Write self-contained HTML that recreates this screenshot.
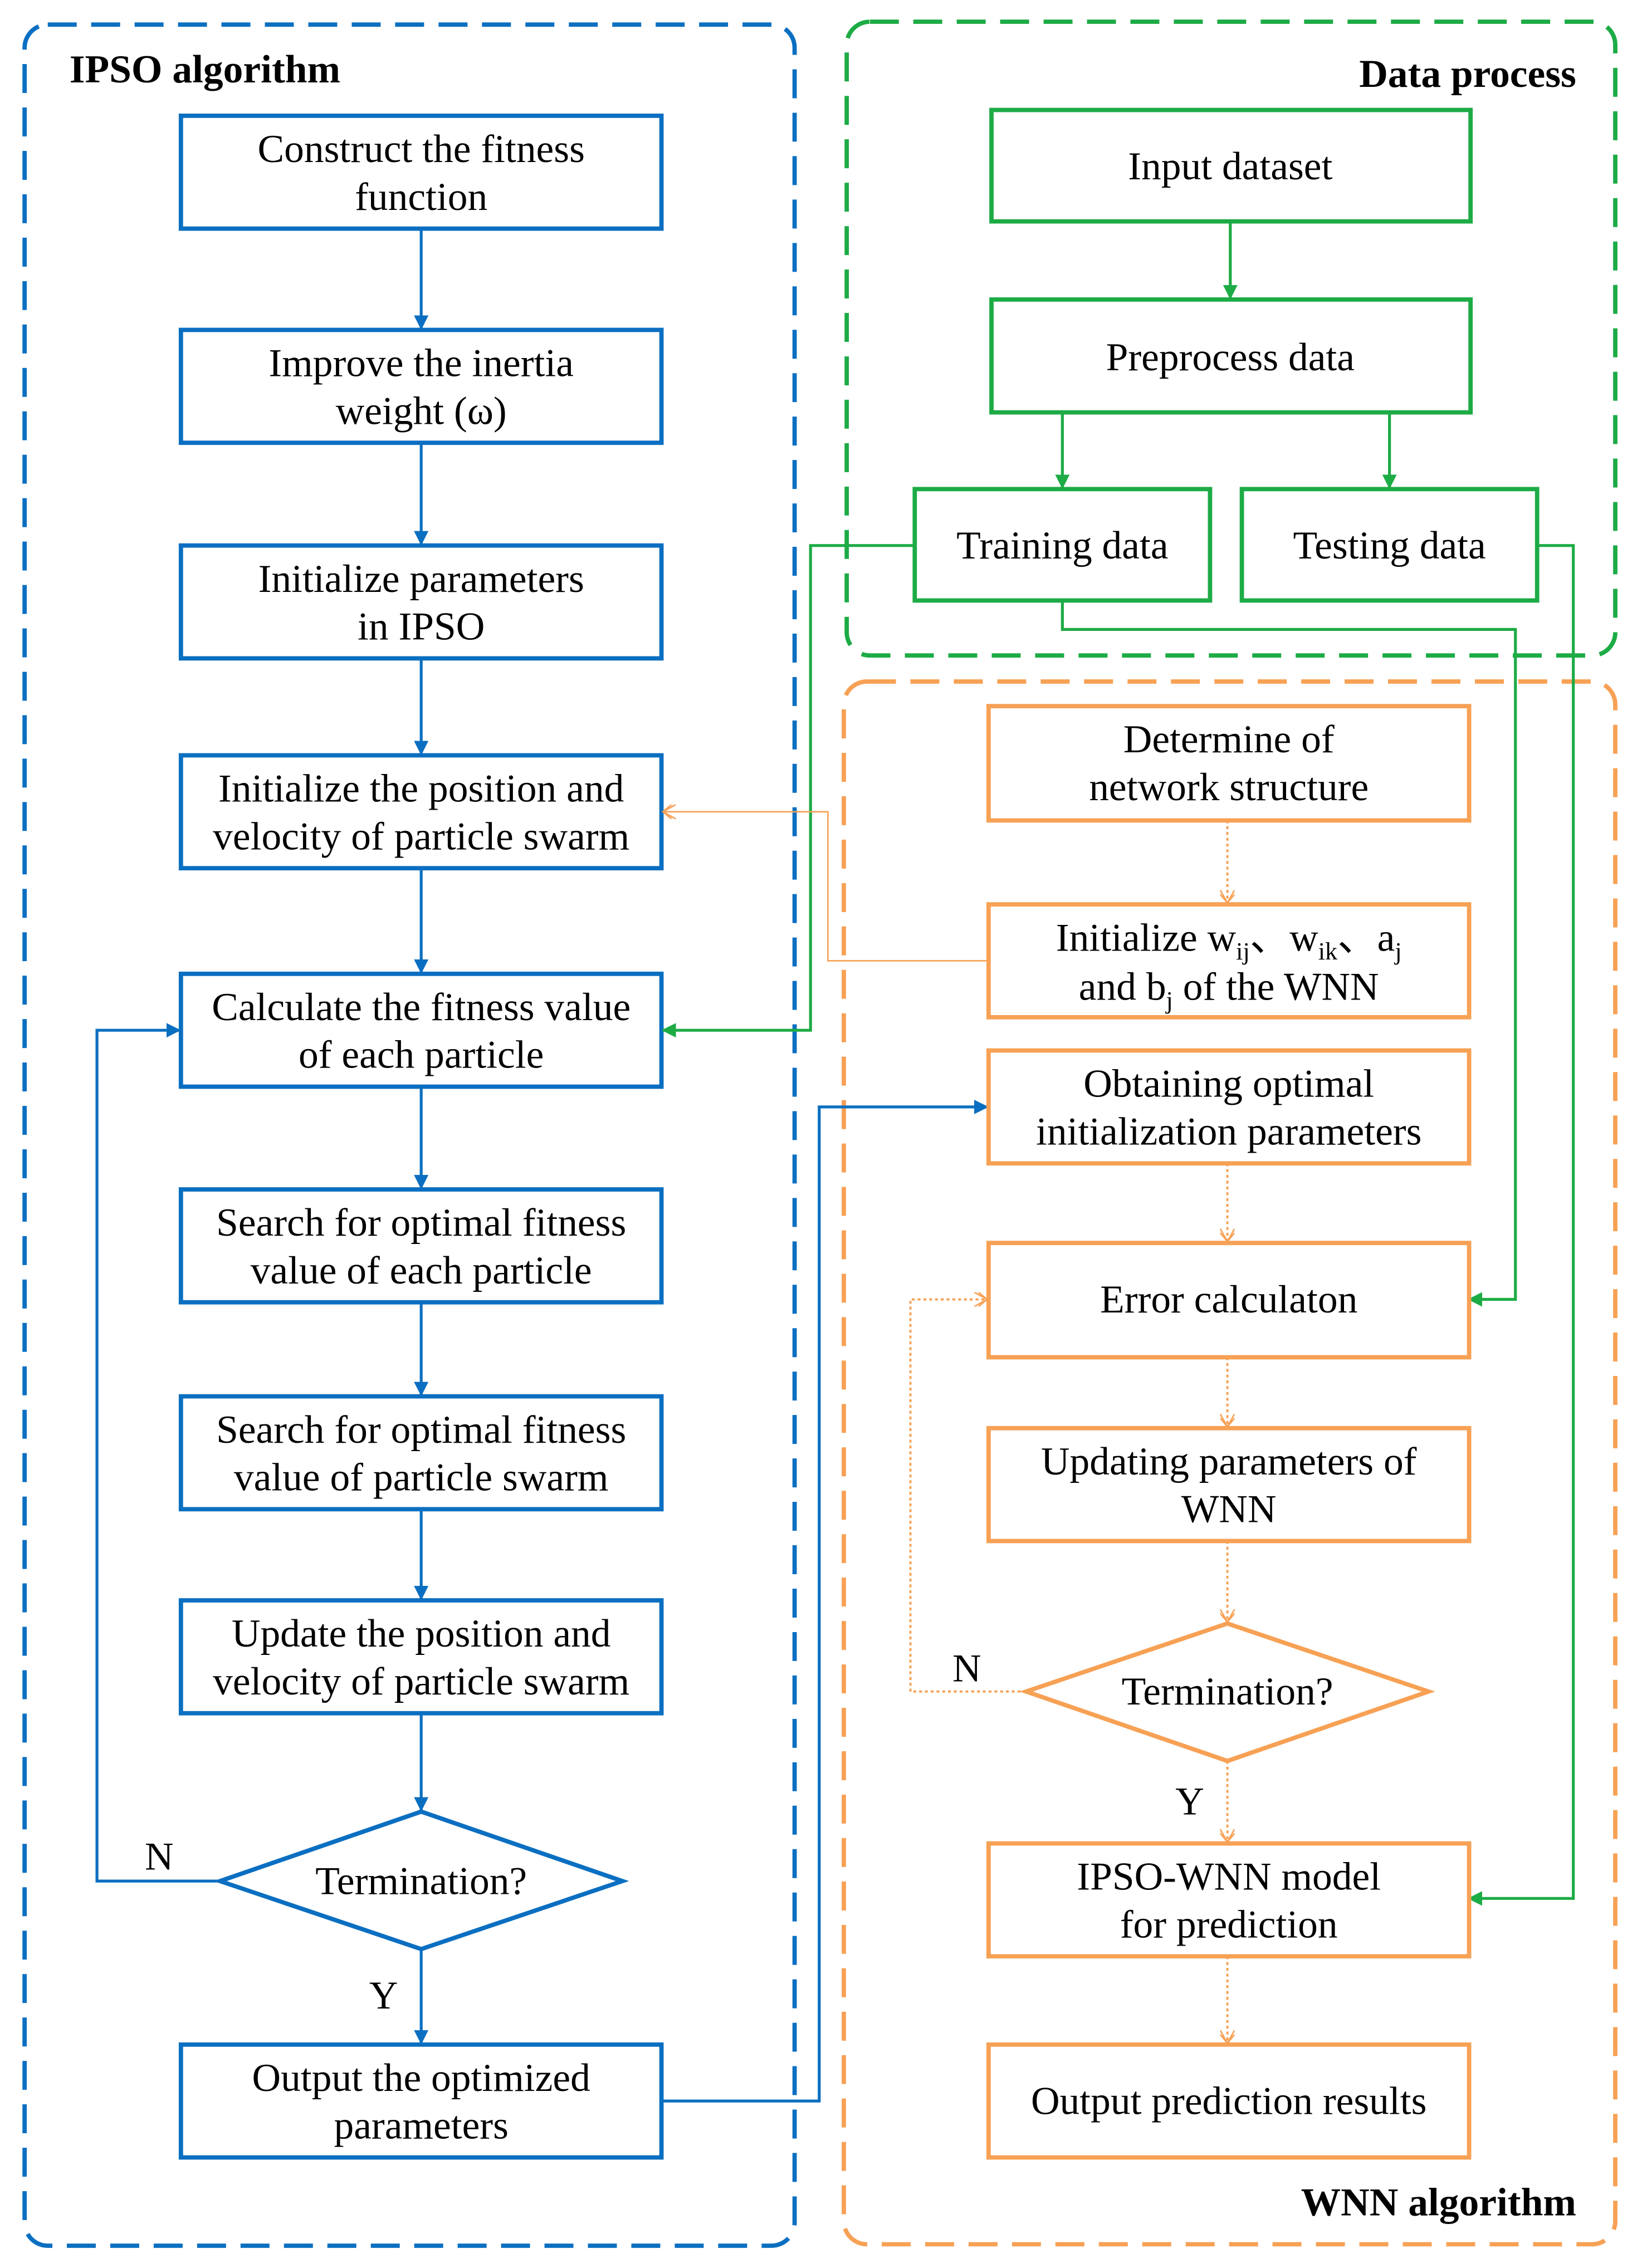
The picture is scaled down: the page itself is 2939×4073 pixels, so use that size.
<!DOCTYPE html>
<html><head><meta charset="utf-8"><style>html,body{margin:0;padding:0;background:#fff}svg{display:block}</style></head>
<body>
<svg width="2939" height="4073" viewBox="0 0 1131 1567.4" preserveAspectRatio="none" xmlns="http://www.w3.org/2000/svg" font-family="'Liberation Serif', serif" font-size="27.5">
<defs>
<marker id="ab" markerWidth="10" markerHeight="10" refX="9" refY="5" orient="auto" markerUnits="userSpaceOnUse"><path d="M0,0 L10,5 L0,10 z" fill="#0B6FC1"/></marker>
<marker id="ag" markerWidth="10" markerHeight="10" refX="9" refY="5" orient="auto" markerUnits="userSpaceOnUse"><path d="M0,0 L10,5 L0,10 z" fill="#1DAB45"/></marker>
<marker id="ao" markerWidth="10" markerHeight="10" refX="9" refY="5" orient="auto" markerUnits="userSpaceOnUse"><path d="M0,0 L9,5 L0,10 M3,0 L9,5 L3,10" fill="none" stroke="#F7A155" stroke-width="1"/></marker>
</defs>
<rect width="1131" height="1567.4" fill="#fff"/>
<rect x="17" y="17" width="532" height="1535" rx="16" fill="none" stroke="#0B6FC1" stroke-width="3" stroke-dasharray="20 10"/>
<rect x="585" y="15" width="531" height="438" rx="16" fill="none" stroke="#1DAB45" stroke-width="3" stroke-dasharray="20 10"/>
<rect x="583" y="471" width="533" height="1080" rx="16" fill="none" stroke="#F7A155" stroke-width="3" stroke-dasharray="20 10"/>
<g font-weight="bold" font-size="27.5">
<text x="48" y="57">IPSO algorithm</text>
<text x="1089" y="60" text-anchor="end">Data process</text>
<text x="1089" y="1531" text-anchor="end">WNN algorithm</text>
</g>
<g fill="none" stroke="#0B6FC1" stroke-width="3">
<rect x="125" y="80" width="332" height="78"/>
<rect x="125" y="228" width="332" height="78"/>
<rect x="125" y="377" width="332" height="78"/>
<rect x="125" y="522" width="332" height="78"/>
<rect x="125" y="673" width="332" height="78"/>
<rect x="125" y="822" width="332" height="78"/>
<rect x="125" y="965" width="332" height="78"/>
<rect x="125" y="1106" width="332" height="78"/>
<polygon points="152,1300 291,1252 430,1300 291,1347"/>
<rect x="125" y="1413" width="332" height="78"/>
</g>
<g stroke="#0B6FC1" stroke-width="2" fill="none" marker-end="url(#ab)">
<line x1="291" y1="158" x2="291" y2="227"/>
<line x1="291" y1="306" x2="291" y2="376"/>
<line x1="291" y1="455" x2="291" y2="521"/>
<line x1="291" y1="600" x2="291" y2="672"/>
<line x1="291" y1="751" x2="291" y2="821"/>
<line x1="291" y1="900" x2="291" y2="964"/>
<line x1="291" y1="1043" x2="291" y2="1105"/>
<line x1="291" y1="1184" x2="291" y2="1251"/>
<line x1="291" y1="1347" x2="291" y2="1412"/>
<polyline points="152,1300 67,1300 67,712 124,712"/>
<polyline points="457,1452 566,1452 566,765 682,765"/>
</g>
<g text-anchor="middle" fill="#000">
<text x="291" y="112">Construct the fitness</text><text x="291" y="145">function</text>
<text x="291" y="260">Improve the inertia</text><text x="291" y="293">weight (ω)</text>
<text x="291" y="409">Initialize parameters</text><text x="291" y="442">in IPSO</text>
<text x="291" y="554">Initialize the position and</text><text x="291" y="587">velocity of particle swarm</text>
<text x="291" y="705">Calculate the fitness value</text><text x="291" y="738">of each particle</text>
<text x="291" y="854">Search for optimal fitness</text><text x="291" y="887">value of each particle</text>
<text x="291" y="997">Search for optimal fitness</text><text x="291" y="1030">value of particle swarm</text>
<text x="291" y="1138">Update the position and</text><text x="291" y="1171">velocity of particle swarm</text>
<text x="291" y="1309">Termination?</text>
<text x="291" y="1445">Output the optimized</text><text x="291" y="1478">parameters</text>
<text x="110" y="1292">N</text>
<text x="265" y="1388">Y</text>
</g>
<g fill="none" stroke="#1DAB45" stroke-width="3">
<rect x="685" y="76" width="331" height="77"/>
<rect x="685" y="207" width="331" height="78"/>
<rect x="632" y="338" width="204" height="77"/>
<rect x="858" y="338" width="204" height="77"/>
</g>
<g stroke="#1DAB45" stroke-width="2" fill="none" marker-end="url(#ag)">
<line x1="850" y1="153" x2="850" y2="206"/>
<line x1="734" y1="285" x2="734" y2="337"/>
<line x1="960" y1="285" x2="960" y2="337"/>
<polyline points="632,377 560,377 560,712 458,712"/>
<polyline points="734,415 734,435 1047,435 1047,898 1015,898"/>
<polyline points="1062,377 1087,377 1087,1312 1015,1312"/>
</g>
<g text-anchor="middle">
<text x="850" y="124">Input dataset</text>
<text x="850" y="256">Preprocess data</text>
<text x="734" y="386">Training data</text>
<text x="960" y="386">Testing data</text>
</g>
<g fill="none" stroke="#F7A155" stroke-width="3">
<rect x="683" y="488" width="332" height="79"/>
<rect x="683" y="625" width="332" height="78"/>
<rect x="683" y="726" width="332" height="78"/>
<rect x="683" y="859" width="332" height="79"/>
<rect x="683" y="987" width="332" height="78"/>
<polygon points="709,1169 848,1122 987,1169 848,1217"/>
<rect x="683" y="1274" width="332" height="78"/>
<rect x="683" y="1413" width="332" height="78"/>
</g>
<g stroke="#F7A155" stroke-width="1.5" fill="none" stroke-dasharray="2 2" marker-end="url(#ao)">
<line x1="848" y1="567" x2="848" y2="624"/>
<line x1="848" y1="804" x2="848" y2="858"/>
<line x1="848" y1="938" x2="848" y2="986"/>
<line x1="848" y1="1065" x2="848" y2="1121"/>
<line x1="848" y1="1217" x2="848" y2="1273"/>
<line x1="848" y1="1352" x2="848" y2="1412"/>
<polyline points="709,1169 629,1169 629,898 682,898"/>
</g>
<g stroke="#F7A155" stroke-width="1" fill="none" marker-end="url(#ao)">
<polyline points="683,664 572,664 572,561 458,561"/>
</g>
<g text-anchor="middle">
<text x="849" y="520">Determine of</text><text x="849" y="553">network structure</text>
<text x="849" y="657">Initialize w<tspan font-size="17" dy="6">ij</tspan><tspan dy="-6">、w</tspan><tspan font-size="17" dy="6">ik</tspan><tspan dy="-6">、a</tspan><tspan font-size="17" dy="6">j</tspan></text>
<text x="849" y="691">and b<tspan font-size="17" dy="6">j</tspan><tspan dy="-6"> of the WNN</tspan></text>
<text x="849" y="758">Obtaining optimal</text><text x="849" y="791">initialization parameters</text>
<text x="849" y="907">Error calculaton</text>
<text x="849" y="1019">Updating parameters of</text><text x="849" y="1052">WNN</text>
<text x="848" y="1178">Termination?</text>
<text x="849" y="1306">IPSO-WNN model</text><text x="849" y="1339">for prediction</text>
<text x="849" y="1461">Output prediction results</text>
<text x="668" y="1162">N</text>
<text x="822" y="1254">Y</text>
</g>
</svg>
</body></html>
